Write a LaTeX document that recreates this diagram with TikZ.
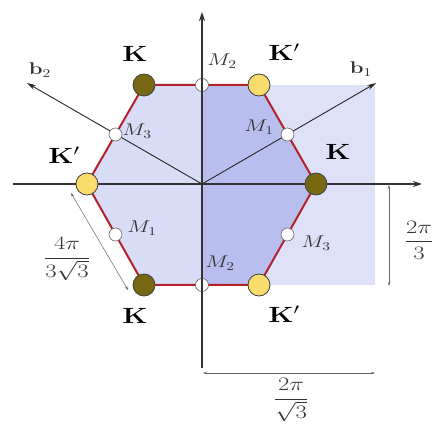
\RequirePackage{fix-cm}
\documentclass[tikz,border=0pt]{standalone}
\usepackage{amsmath}
\usepackage{graphicx}
\usetikzlibrary{arrows.meta}
\newcommand{\widetxt}[1]{\scalebox{1.3}[1]{#1}}
\definecolor{hexfill}{RGB}{216,220,246}
\definecolor{overfill}{RGB}{184,191,239}
\definecolor{rectfill}{RGB}{222,225,248}
\definecolor{hexline}{RGB}{178,34,40}
\definecolor{kolive}{RGB}{120,104,20}
\definecolor{kyellow}{RGB}{250,220,108}
\begin{document}
\begin{tikzpicture}[x=1pt,y=-1pt,
  axisline/.style={line width=1.2pt, draw=black!80, -{Stealth[length=9pt,width=6pt]}},
  vecline/.style={line width=0.9pt, draw=black!85, -{Stealth[length=9pt,width=5pt]}},
  dimline/.style={line width=0.5pt, draw=black!60, {Stealth[length=4pt,width=2.5pt]}-{Stealth[length=4pt,width=2.5pt]}},
  kdot/.style={circle, draw=black!75, line width=0.8pt, fill=kolive, minimum size=22pt, inner sep=0pt},
  kpdot/.style={kdot, fill=kyellow},
  mdot/.style={circle, draw=black!60, line width=0.6pt, fill=white, minimum size=13pt, inner sep=0pt},
  klab/.style={font=\fontsize{22}{26}\selectfont, inner sep=0pt},
  mlab/.style={font=\fontsize{17}{20}\selectfont, inner sep=0pt, text=black!80},
  dimlab/.style={font=\fontsize{19}{22}\selectfont, inner sep=0pt, text=black!80}]
\useasboundingbox (0,0) rectangle (432,425);
% geometry
\coordinate (O) at (202,184);
\coordinate (V1) at (316,184);
\coordinate (V2) at (259,85);
\coordinate (V3) at (144,85);
\coordinate (V4) at (87,184);
\coordinate (V5) at (144,285);
\coordinate (V6) at (259,285);
\coordinate (T) at (202,85);
\coordinate (B) at (202,285);
\coordinate (XL) at (13,184);
\coordinate (XR) at (422,184);
\coordinate (YB) at (202,368);
\coordinate (YT) at (202,12);
\coordinate (B1) at (376,83);
\coordinate (B2) at (27,83);
% shading
\fill[rectfill] (202,85) rectangle (375,285);
\fill[hexfill] (V1)--(V2)--(V3)--(V4)--(V5)--(V6)--cycle;
\fill[overfill] (T)--(V2)--(V1)--(V6)--(B)--cycle;
\draw[hexline, line width=2pt, line join=round] (V1)--(V2)--(V3)--(V4)--(V5)--(V6)--cycle;
% axes and vectors
\draw[axisline] (XL) -- (XR);
\draw[vecline] (O) -- (B1);
\draw[vecline] (O) -- (B2);
% dimension lines
\coordinate (D1a) at (203,373);
\coordinate (D1b) at (375,373);
\draw[dimline] (D1a) -- (D1b);
\coordinate (D2a) at (389,185);
\coordinate (D2b) at (389,286);
\draw[dimline] (D2a) -- (D2b);
\coordinate (D3a) at (71,193);
\coordinate (D3b) at (128,290);
\draw[dimline] (D3a) -- (D3b);
% M points
\node[mdot] (m2t) at (T) {};
\node[mdot] (m2b) at (B) {};
\node[mdot] (m3t) at (115.5,134.5) {};
\node[mdot] (m1t) at (287.5,134.5) {};
\node[mdot] (m1b) at (115.5,234.5) {};
\node[mdot] (m3b) at (287.5,234.5) {};
\draw[axisline] (YB) -- (YT);
% K points
\node[kdot] (k1) at (V1) {};
\node[kpdot] (k2) at (V2) {};
\node[kdot] (k3) at (V3) {};
\node[kpdot] (k4) at (V4) {};
\node[kdot] (k5) at (V5) {};
\node[kpdot] (k6) at (V6) {};
% labels
\node[klab] (lk3) at (135,54) {\widetxt{$\mathbf{K}$}};
\node[klab] (lk2) at (284,52) {\widetxt{$\mathbf{K}'$}};
\node[klab] (lk1) at (338,152) {\widetxt{$\mathbf{K}$}};
\node[klab] (lk4) at (64,155) {\widetxt{$\mathbf{K}'$}};
\node[klab] (lk5) at (135,316) {\widetxt{$\mathbf{K}$}};
\node[klab] (lk6) at (284,314) {\widetxt{$\mathbf{K}'$}};
\node[mlab] (lm2t) at (222,61) {\widetxt{$M_2$}};
\node[mlab] (lm2b) at (220,263) {\widetxt{$M_2$}};
\node[mlab] (lm3t) at (137,131) {\widetxt{$M_3$}};
\node[mlab] (lm1t) at (259,127) {\widetxt{$M_1$}};
\node[mlab] (lm1b) at (142,228) {\widetxt{$M_1$}};
\node[mlab] (lm3b) at (316,243) {\widetxt{$M_3$}};
\node[mlab] (lb1) at (361,69) {\widetxt{$\mathbf{b}_1$}};
\node[mlab] (lb2) at (40,70) {\widetxt{$\mathbf{b}_2$}};
\node[dimlab] (ld3) at (67,259) {\widetxt{$\dfrac{4\pi}{3\sqrt{3}}$}};
\node[dimlab] (ld2) at (419,240) {\widetxt{$\dfrac{2\pi}{3}$}};
\node[dimlab] (ld1) at (291,400) {\widetxt{$\dfrac{2\pi}{\sqrt{3}}$}};
\end{tikzpicture}
\end{document}
